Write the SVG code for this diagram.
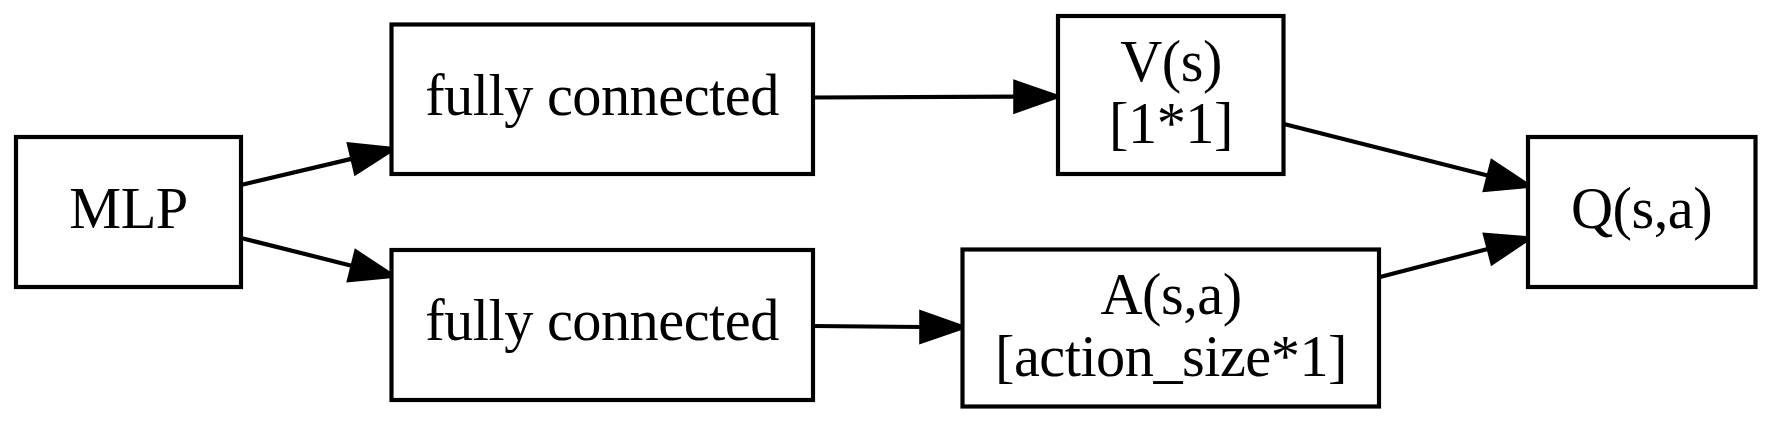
<svg xmlns="http://www.w3.org/2000/svg" width="1771" height="425" viewBox="0 0 1771 425">
<style>
.box{fill:#fff;stroke:#000;stroke-width:4.17}
.lbl{font-family:"Liberation Serif","Times New Roman",serif;font-size:58.33px;letter-spacing:-0.5px;text-anchor:middle;fill:#000}
.edge{stroke:#000;stroke-width:4.17;fill:none}
.head{fill:#000;stroke:#000;stroke-width:4.17}
</style>
<rect width="1771" height="425" fill="#fff"/>
<g id="connectors">
<line class="edge" x1="241" y1="185" x2="352.4" y2="158.6"/>
<polygon class="head" points="393,149 355.8,172.8 349,144.4"/>
<line class="edge" x1="241" y1="238" x2="352.5" y2="265.9"/>
<polygon class="head" points="393,276 349,280.1 356.1,251.7"/>
<line class="edge" x1="813" y1="97.5" x2="1015.3" y2="96.7"/>
<polygon class="head" points="1057,96.5 1015.3,111.3 1015.3,82.1"/>
<line class="edge" x1="813" y1="326" x2="921.3" y2="327"/>
<polygon class="head" points="963,327.3 921.3,341.6 921.3,312.4"/>
<line class="edge" x1="1284" y1="124" x2="1488.6" y2="175.8"/>
<polygon class="head" points="1529,186 1485,189.9 1492.2,161.6"/>
<line class="edge" x1="1379" y1="277.3" x2="1488.6" y2="248.8"/>
<polygon class="head" points="1529,238.3 1492.3,262.9 1485,234.7"/>
</g>
<g id="node-mlp">
<rect class="box" x="16" y="137" width="225" height="150"/>
<text class="lbl" x="128.5" y="228">MLP</text>
</g>
<g id="node-fc1">
<rect class="box" x="391.5" y="24.5" width="421.5" height="149.5"/>
<text class="lbl" x="602" y="114.5">fully connected</text>
</g>
<g id="node-fc2">
<rect class="box" x="391.5" y="250" width="421.5" height="150"/>
<text class="lbl" x="602" y="340">fully connected</text>
</g>
<g id="node-v">
<rect class="box" x="1058" y="16" width="225.5" height="158"/>
<text class="lbl" x="1171" y="80.5">V(s)</text>
<text class="lbl" x="1171" y="143">[1*1]</text>
</g>
<g id="node-a">
<rect class="box" x="962.5" y="249.5" width="416.5" height="157"/>
<text class="lbl" x="1171" y="313.5">A(s,a)</text>
<text class="lbl" x="1171" y="376">[action_size*1]</text>
</g>
<g id="node-q">
<rect class="box" x="1528" y="137" width="227.5" height="150"/>
<text class="lbl" x="1641.5" y="228">Q(s,a)</text>
</g>
</svg>
